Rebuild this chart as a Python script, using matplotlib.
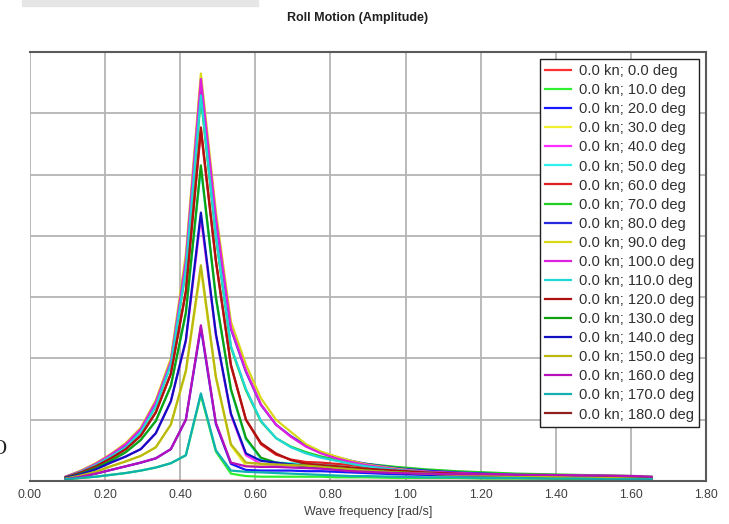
import matplotlib
matplotlib.use("Agg")
import matplotlib.pyplot as plt
import numpy as np

plt.rcParams["font.family"] = ["Liberation Sans", "DejaVu Sans"]

# wave frequency grid [rad/s]
freq = [0.095, 0.135, 0.175, 0.215, 0.255, 0.295, 0.335, 0.375, 0.415, 0.455,
        0.495, 0.535, 0.575, 0.615, 0.655, 0.695, 0.735, 0.775, 0.815, 0.855,
        0.895, 0.975, 1.055, 1.135, 1.215, 1.295, 1.375, 1.455, 1.535, 1.615, 1.655]

headings = [0, 10, 20, 30, 40, 50, 60, 70, 80, 90,
            100, 110, 120, 130, 140, 150, 160, 170, 180]

# roll amplitude per heading
roll_000 = [0.00, 0.00, 0.00, 0.00, 0.00, 0.00, 0.00, 0.00, 0.00, 0.00, 0.00, 0.00, 0.00, 0.00, 0.00, 0.00,
            0.00, 0.00, 0.00, 0.00, 0.00, 0.00, 0.00, 0.00, 0.00, 0.00, 0.00, 0.00, 0.00, 0.00, 0.00]
roll_010 = [0.03, 0.05, 0.07, 0.10, 0.13, 0.17, 0.22, 0.29, 0.42, 1.40, 0.48, 0.12, 0.08, 0.07, 0.07, 0.07,
            0.07, 0.07, 0.06, 0.06, 0.06, 0.05, 0.05, 0.05, 0.04, 0.04, 0.04, 0.03, 0.03, 0.03, 0.02]
roll_020 = [0.03, 0.07, 0.12, 0.18, 0.24, 0.30, 0.37, 0.52, 1.00, 2.50, 0.93, 0.28, 0.18, 0.17, 0.17, 0.17,
            0.16, 0.16, 0.15, 0.14, 0.13, 0.11, 0.10, 0.09, 0.08, 0.07, 0.06, 0.06, 0.05, 0.04, 0.04]
roll_030 = [0.04, 0.09, 0.15, 0.24, 0.32, 0.41, 0.55, 0.92, 1.78, 3.45, 1.68, 0.58, 0.25, 0.24, 0.24, 0.24,
            0.23, 0.22, 0.21, 0.19, 0.17, 0.14, 0.12, 0.10, 0.09, 0.08, 0.07, 0.06, 0.05, 0.04, 0.03]
roll_040 = [0.05, 0.11, 0.19, 0.30, 0.40, 0.52, 0.78, 1.30, 2.28, 4.30, 2.38, 1.08, 0.42, 0.28, 0.27, 0.27,
            0.26, 0.25, 0.23, 0.21, 0.19, 0.16, 0.14, 0.12, 0.10, 0.09, 0.08, 0.07, 0.06, 0.05, 0.04]
roll_050 = [0.05, 0.12, 0.21, 0.33, 0.47, 0.67, 0.98, 1.55, 2.72, 5.10, 2.98, 1.48, 0.68, 0.36, 0.30, 0.29,
            0.28, 0.27, 0.25, 0.22, 0.20, 0.16, 0.13, 0.11, 0.10, 0.09, 0.08, 0.07, 0.06, 0.05, 0.04]
roll_060 = [0.06, 0.14, 0.24, 0.37, 0.52, 0.74, 1.12, 1.75, 3.08, 5.72, 3.58, 1.88, 1.00, 0.60, 0.43, 0.35,
            0.31, 0.30, 0.28, 0.26, 0.23, 0.19, 0.16, 0.13, 0.11, 0.10, 0.09, 0.08, 0.07, 0.06, 0.05]
roll_070 = [0.06, 0.15, 0.26, 0.40, 0.55, 0.80, 1.22, 1.90, 3.43, 6.25, 3.98, 2.18, 1.48, 0.97, 0.70, 0.56,
            0.47, 0.40, 0.35, 0.31, 0.28, 0.23, 0.19, 0.16, 0.14, 0.12, 0.11, 0.10, 0.09, 0.08, 0.07]
roll_080 = [0.07, 0.16, 0.27, 0.42, 0.58, 0.83, 1.27, 1.95, 3.58, 6.52, 4.28, 2.48, 1.78, 1.24, 0.92, 0.73,
            0.58, 0.47, 0.39, 0.33, 0.28, 0.21, 0.17, 0.14, 0.12, 0.10, 0.09, 0.08, 0.07, 0.06, 0.05]
roll_090 = [0.07, 0.17, 0.29, 0.44, 0.62, 0.87, 1.32, 2.00, 3.70, 6.65, 4.40, 2.60, 1.90, 1.35, 1.00, 0.80,
            0.60, 0.48, 0.40, 0.33, 0.27, 0.20, 0.15, 0.12, 0.10, 0.08, 0.07, 0.06, 0.05, 0.05, 0.04]
roll_100 = [0.07, 0.16, 0.28, 0.43, 0.60, 0.85, 1.29, 1.95, 3.60, 6.56, 4.30, 2.50, 1.80, 1.25, 0.92, 0.72,
            0.56, 0.45, 0.37, 0.31, 0.26, 0.19, 0.15, 0.13, 0.11, 0.10, 0.09, 0.09, 0.08, 0.07, 0.06]
roll_110 = [0.06, 0.15, 0.26, 0.40, 0.55, 0.80, 1.22, 1.90, 3.45, 6.29, 4.00, 2.20, 1.50, 0.98, 0.70, 0.55,
            0.45, 0.38, 0.33, 0.28, 0.24, 0.18, 0.14, 0.11, 0.09, 0.08, 0.07, 0.06, 0.05, 0.04, 0.03]
roll_120 = [0.06, 0.14, 0.24, 0.37, 0.52, 0.74, 1.12, 1.75, 3.10, 5.77, 3.60, 1.90, 1.00, 0.62, 0.45, 0.34,
            0.28, 0.26, 0.24, 0.22, 0.20, 0.17, 0.14, 0.12, 0.10, 0.09, 0.08, 0.07, 0.06, 0.05, 0.04]
roll_130 = [0.05, 0.12, 0.21, 0.33, 0.47, 0.67, 0.98, 1.55, 2.75, 5.15, 3.00, 1.50, 0.70, 0.38, 0.30, 0.27,
            0.25, 0.23, 0.21, 0.19, 0.17, 0.14, 0.12, 0.10, 0.09, 0.08, 0.07, 0.06, 0.05, 0.04, 0.04]
roll_140 = [0.05, 0.11, 0.19, 0.30, 0.40, 0.52, 0.78, 1.30, 2.30, 4.38, 2.40, 1.10, 0.45, 0.33, 0.30, 0.27,
            0.24, 0.22, 0.20, 0.18, 0.16, 0.13, 0.11, 0.10, 0.09, 0.08, 0.07, 0.06, 0.05, 0.04, 0.03]
roll_150 = [0.04, 0.09, 0.15, 0.24, 0.32, 0.41, 0.55, 0.92, 1.80, 3.52, 1.70, 0.60, 0.30, 0.28, 0.27, 0.26,
            0.25, 0.23, 0.21, 0.19, 0.17, 0.14, 0.12, 0.10, 0.09, 0.08, 0.07, 0.06, 0.05, 0.04, 0.03]
roll_160 = [0.03, 0.07, 0.12, 0.18, 0.24, 0.30, 0.37, 0.52, 1.00, 2.54, 0.95, 0.30, 0.24, 0.23, 0.23, 0.22,
            0.21, 0.20, 0.18, 0.16, 0.15, 0.13, 0.12, 0.11, 0.11, 0.10, 0.10, 0.09, 0.09, 0.08, 0.07]
roll_170 = [0.03, 0.05, 0.07, 0.10, 0.13, 0.17, 0.22, 0.29, 0.42, 1.43, 0.50, 0.17, 0.15, 0.14, 0.13, 0.12,
            0.11, 0.10, 0.09, 0.08, 0.08, 0.07, 0.06, 0.06, 0.05, 0.05, 0.04, 0.04, 0.03, 0.03, 0.03]
roll_180 = [0.00, 0.00, 0.00, 0.00, 0.00, 0.00, 0.00, 0.00, 0.00, 0.00, 0.00, 0.00, 0.00, 0.00, 0.00, 0.00,
            0.00, 0.00, 0.00, 0.00, 0.00, 0.00, 0.00, 0.00, 0.00, 0.00, 0.00, 0.00, 0.00, 0.00, 0.00]

series = [roll_000, roll_010, roll_020, roll_030, roll_040, roll_050, roll_060,
          roll_070, roll_080, roll_090, roll_100, roll_110, roll_120, roll_130,
          roll_140, roll_150, roll_160, roll_170, roll_180]

COLORS = ["#ff3030", "#30f030", "#1818ff", "#f0f030", "#ff30ff", "#30f0f0",
          "#e02020", "#20d020", "#2828e0", "#d8d818", "#e020e0", "#20d8d8",
          "#b01010", "#10a010", "#1010c0", "#b8b810", "#b810b8", "#10b0b0", "#902020"]

x_ticks = [0.0, 0.2, 0.4, 0.6, 0.8, 1.0, 1.2, 1.4, 1.6, 1.8]
x_labels = ["0.00", "0.20", "0.40", "0.60", "0.80", "1.00", "1.20", "1.40", "1.60", "1.80"]

fig = plt.figure(figsize=(7.29, 5.24), dpi=100)
ax = fig.add_axes([30 / 729, 1 - 481 / 524, 676 / 729, 429 / 524])

for hdg, vals, col in zip(headings, series, COLORS):
    ax.plot(freq, vals, color=col, lw=1.6, label=f"0.0 kn; {hdg:.1f} deg")

ax.set_xlim(0, 1.8)
ax.set_ylim(0, 7)
ax.set_xticks(x_ticks)
ax.set_xticklabels(x_labels)
ax.set_yticks(np.arange(0, 8, 1))
ax.set_yticklabels([])
ax.tick_params(length=0, labelsize=8.8, labelcolor="#404040", pad=6)
ax.grid(True, color="#b4b4b4", lw=1.3)
ax.set_axisbelow(True)

ax.spines["left"].set_visible(False)
for s in ("top", "right", "bottom"):
    ax.spines[s].set_color("#5a5a5a")
    ax.spines[s].set_linewidth(1.5)

ax.set_xlabel("Wave frequency [rad/s]", fontsize=9, color="#404040", labelpad=3)

leg = ax.legend(loc="upper right", bbox_to_anchor=(669 / 676, 1 - 7 / 429),
                borderaxespad=0, fontsize=10.6, frameon=True, fancybox=False,
                edgecolor="#202020", facecolor="white", framealpha=1,
                labelspacing=0.345, handlelength=1.75, handletextpad=0.5,
                borderpad=0.35)
leg.get_frame().set_linewidth(1.0)
for t in leg.get_texts():
    t.set_color("#303030")

fig.text(358 / 729, 1 - 18 / 524, "Roll Motion (Amplitude)", ha="center",
         va="center", fontsize=9, fontweight="bold", color="#202020")

# leftover bits of the screenshot
fig.patches.append(plt.Rectangle((22 / 729, 1 - 6 / 524), 236 / 729, 6 / 524,
                                 transform=fig.transFigure, color="#e6e6e6"))
fig.text(-0.002, 1 - 449 / 524, "O", ha="center", va="center", fontsize=15,
         family="Liberation Serif", color="#202020")

fig.savefig("out.png", dpi=100)
